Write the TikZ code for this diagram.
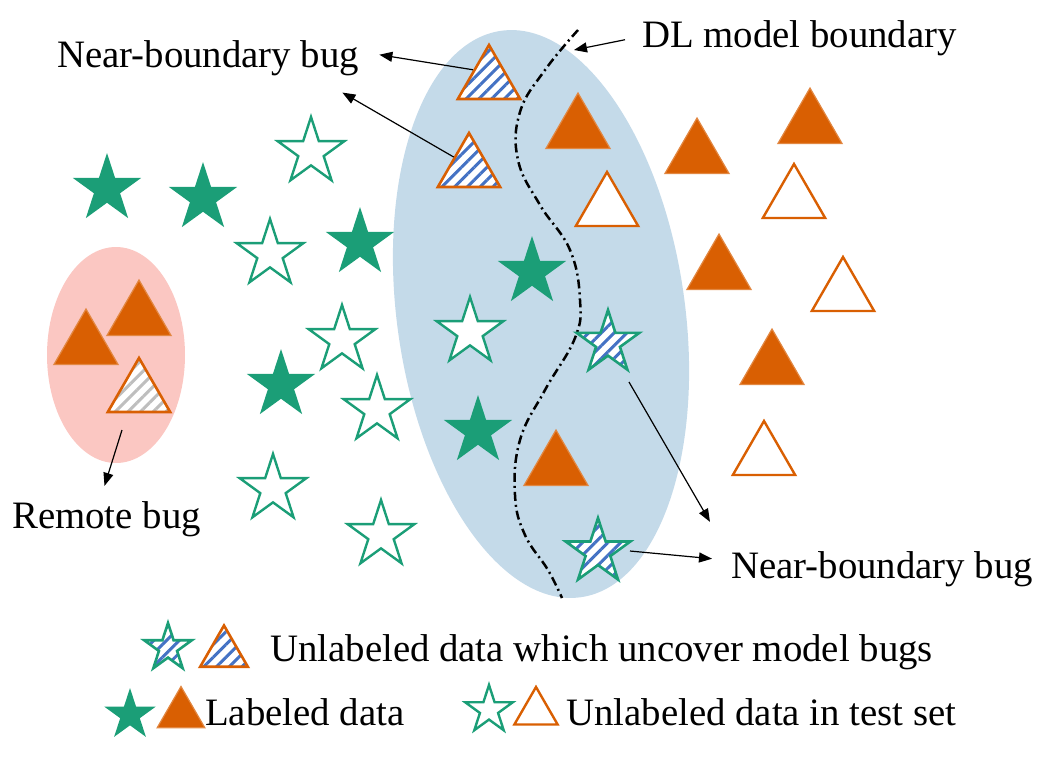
\documentclass[tikz,border=0pt]{standalone}
\usepackage{fontspec}
\setmainfont{Liberation Serif}
\usepackage{tikz}
\usetikzlibrary{arrows.meta, shapes.geometric, patterns.meta}
\definecolor{dlgreen}{RGB}{27, 158, 119}
\definecolor{dlorange}{RGB}{217, 95, 2}
\definecolor{stripeblue}{RGB}{68, 114, 196}
\definecolor{stripegray}{RGB}{190, 190, 190}
\definecolor{regionblue}{RGB}{196, 218, 233}
\definecolor{regionpink}{RGB}{251, 199, 194}

\begin{document}
\begin{tikzpicture}[x=1pt, y=-1pt,
  starshape/.style={star, star points=5, star point ratio=2.618, inner sep=0pt, minimum size=72pt},
  trishape/.style={regular polygon, regular polygon sides=3, inner sep=0pt, minimum size=74pt},
  labstar/.style={starshape, fill=dlgreen},
  unlabstar/.style={starshape, minimum size=70pt, draw=dlgreen, fill=white, line width=2.4pt},
  bugstar/.style={starshape, minimum size=66pt, draw=dlgreen, line width=2.6pt, preaction={fill=white},
    pattern={Lines[angle=45, distance=9pt, line width=3pt]}, pattern color=stripeblue},
  labtri/.style={trishape, fill=dlorange, draw=dlorange!75!white, line width=1.2pt},
  unlabtri/.style={trishape, minimum size=72pt, draw=dlorange, fill=white, line width=2.4pt},
  bugtri/.style={trishape, minimum size=72pt, draw=dlorange, line width=2.6pt, preaction={fill=white},
    pattern={Lines[angle=45, distance=9pt, line width=3pt]}, pattern color=stripeblue},
  remotetri/.style={bugtri, pattern color=stripegray},
  txt/.style={font=\fontsize{38.8}{44}\selectfont, inner sep=0pt, anchor=base west},
  ptr/.style={-{Triangle[length=13pt, width=10pt]}, line width=1.2pt},
  boundary/.style={line width=2.5pt, dash pattern=on 9pt off 4pt on 2pt off 4pt}]

  \useasboundingbox (0,0) rectangle (1044,756);

  % --- Regions ---
  \fill[regionblue] (541,314) ellipse [x radius=144, y radius=286, rotate=8];
  \fill[regionpink] (116,355) ellipse [x radius=69, y radius=108];

  % --- DL model boundary ---
  \draw[boundary] plot[smooth, tension=0.7] coordinates {(578,30) (545,70) (520,112) (518,160)
    (540,205) (570,250) (580,300) (575,338) (545,390) (520,440) (515,495) (525,535) (548,570) (562,598)};
  \coordinate (bndtip) at (574,50);

  % --- Labeled samples ---
  \foreach \name/\x/\y in {s1/107/189, s2/203/198, s5/360/243, s7/281/385, c/532/272, f/478/431}
    \node[labstar] (\name) at (\x,\y) {};
  \foreach \name/\x/\y in {a/578/130, g/556/467, r1/697/155, r2/810/125, r4/719/271, r6/772/366,
    p1/86/346, p2/139/317}
    \node[labtri] (\name) at (\x,\y) {};

  % --- Unlabeled samples ---
  \foreach \name/\x/\y in {s3/311/152, s4/270/254, s6/342/340, s8/377/410, s9/273/489, s10/381/535, d/470/332}
    \node[unlabstar] (\name) at (\x,\y) {};
  \foreach \name/\x/\y in {b/607/208, r3/794/200, r5/843/293, r7/764/457}
    \node[unlabtri] (\name) at (\x,\y) {};

  % --- Bugs ---
  \node[bugtri] (t1) at (489,81) {};
  \node[bugtri] (t2) at (469,169) {};
  \node[bugstar] (e) at (608,343) {};
  \node[bugstar, minimum size=68pt] (h) at (598,552) {};
  \node[remotetri] (p3) at (139,394) {};

  % Labels
  \node[txt] (nbtop) at (57,67) {Near-boundary bug};
  \node[txt] (dlbound) at (642,47) {DL model boundary};
  \node[txt] (remote) at (12,528) {Remote bug};
  \node[txt] (nbright) at (731,578) {Near-boundary bug};

  \draw[ptr] (t1.145) -- ([shift={(20,-3)}]nbtop.east);
  \draw[ptr] (t2.142) -- ([shift={(-17,17)}]nbtop.south east);
  \draw[ptr] ([shift={(-17,2)}]dlbound.west) -- (bndtip);
  \draw[ptr] ([shift={(21,39)}]e.center) -- ([shift={(-21,-29)}]nbright.north west);
  \draw[ptr] ([shift={(32,-1)}]h.center) -- ([shift={(-19,-10)}]nbright.west);
  \draw[ptr] ([shift={(-17,36)}]p3.center) -- ([shift={(-2,-15)}]remote.north);

  % --- Legend ---
  \node[bugstar, minimum size=50pt] (lgbugstar) at (168,648) {};
  \node[bugtri, minimum size=55pt] (lgbugtri) at (224,653) {};
  \node[txt] (legbug) at (270,661) {Unlabeled data which uncover model bugs};
  \node[labstar, minimum size=54pt] (lglabstar) at (130,715) {};
  \node[labtri, minimum size=55pt] (lglabtri) at (181,714) {};
  \node[txt] (leglab) at (205,725) {Labeled data};
  \node[unlabstar, minimum size=50pt] (lgunstar) at (489,710) {};
  \node[unlabtri, minimum size=50pt] (lguntri) at (536,712) {};
  \node[txt] (legunlab) at (566,725) {Unlabeled data in test set};

\end{tikzpicture}
\end{document}
